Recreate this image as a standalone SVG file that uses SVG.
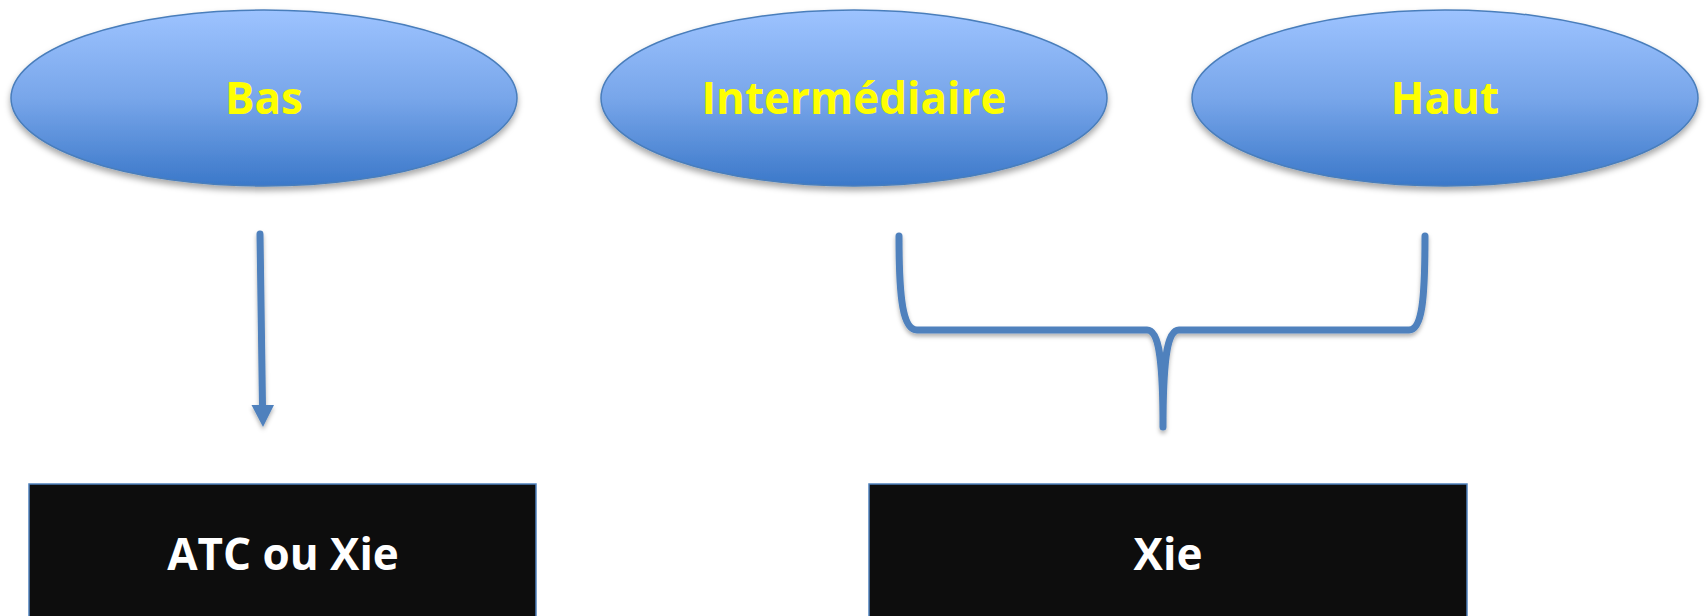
<svg xmlns="http://www.w3.org/2000/svg" width="1706" height="616" viewBox="0 0 1706 616">
  <defs>
    <linearGradient id="blueGrad" x1="0" y1="0" x2="0" y2="1">
      <stop offset="0" stop-color="#9DC3FF"/>
      <stop offset="0.5" stop-color="#78A6EA"/>
      <stop offset="1" stop-color="#3B78C9"/>
    </linearGradient>
    <filter id="shadow" x="-10%" y="-10%" width="120%" height="130%">
      <feDropShadow dx="0" dy="4" stdDeviation="3" flood-color="#000" flood-opacity="0.35"/>
    </filter>
    <filter id="lshadow" filterUnits="userSpaceOnUse" x="0" y="0" width="1706" height="616">
      <feDropShadow dx="0" dy="3" stdDeviation="2" flood-color="#000" flood-opacity="0.3"/>
    </filter>
    <style>
      .oval { fill: url(#blueGrad); stroke: #4A7EBB; stroke-width: 1.5; filter: url(#shadow); }
      .otext { font-family: "Open Sans", "Liberation Sans", sans-serif; font-weight: bold; font-size: 44px; fill: #FFFF00; text-anchor: middle; }
      .box { fill: #0D0D0D; stroke: #4F81BD; stroke-width: 1.5; }
      .btext { font-family: "Open Sans", "Liberation Sans", sans-serif; font-weight: bold; font-size: 44px; fill: #FFFFFF; text-anchor: middle; }
      .conn { fill: none; stroke: #4F81BD; stroke-width: 7; stroke-linecap: round; stroke-linejoin: round; }
      .head { fill: #4F81BD; stroke: none; }
    </style>
  </defs>
  <rect width="1706" height="616" fill="#FFFFFF"/>

  <g id="node-bas">
    <ellipse class="oval" cx="264" cy="98" rx="253" ry="88"/>
    <text class="otext" x="264" y="114">Bas</text>
  </g>
  <g id="node-intermediaire">
    <ellipse class="oval" cx="854" cy="98" rx="253" ry="88"/>
    <text class="otext" x="854" y="114">Intermédiaire</text>
  </g>
  <g id="node-haut">
    <ellipse class="oval" cx="1445" cy="98" rx="253" ry="88"/>
    <text class="otext" x="1445" y="114">Haut</text>
  </g>

  <g id="connectors" filter="url(#lshadow)">
    <path class="conn" d="M260,234 L262.5,406" stroke-linecap="butt"/>
    <polygon class="head" points="251.5,405 274,405 263,427"/>
    <path class="conn" d="M899,236 C899,300 903,330 917,330 L1147,330 C1160,330 1163,365 1163,427 M1163,427 C1163,365 1166,330 1179,330 L1409,330 C1422,330 1425,300 1425,236"/>
  </g>

  <g id="node-atc">
    <rect class="box" x="29" y="484" width="507" height="140"/>
    <text class="btext" x="283" y="570">ATC ou Xie</text>
  </g>
  <g id="node-xie">
    <rect class="box" x="869" y="484" width="598" height="140"/>
    <text class="btext" x="1168" y="570">Xie</text>
  </g>
</svg>
